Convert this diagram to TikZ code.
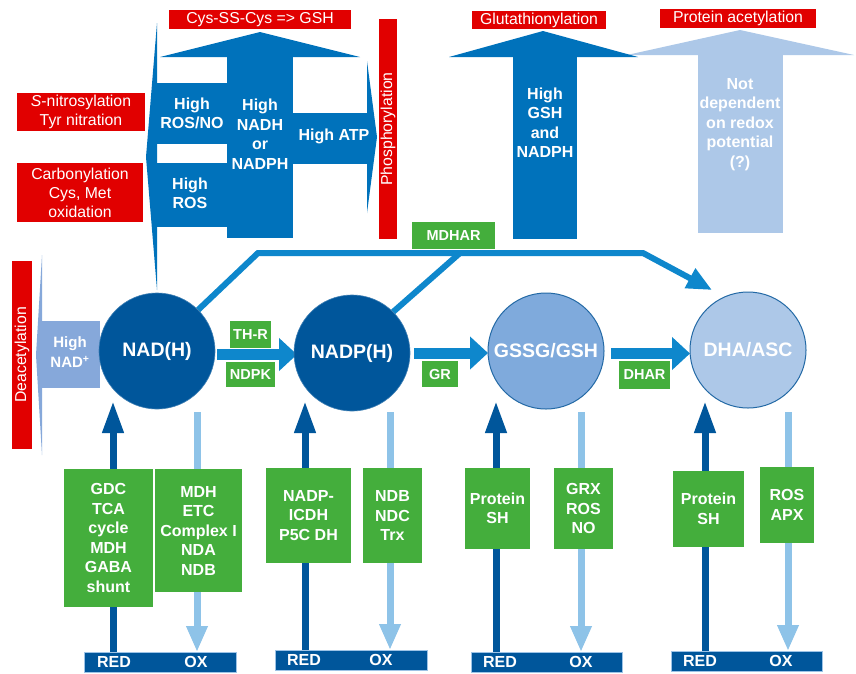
\documentclass[tikz,border=0pt]{standalone}
\usepackage{fontspec}
\setmainfont{Liberation Sans}
\usetikzlibrary{arrows.meta,calc}
\definecolor{navy}{RGB}{0,86,155}
\definecolor{midblue}{RGB}{0,114,187}
\definecolor{conblue}{RGB}{14,135,204}
\definecolor{lightblue}{RGB}{173,200,232}
\definecolor{gsblue}{RGB}{127,170,220}
\definecolor{nadblue}{RGB}{134,168,218}
\definecolor{oxblue}{RGB}{142,195,232}
\definecolor{grn}{RGB}{68,174,60}
\definecolor{redl}{RGB}{225,0,0}
\definecolor{barline}{RGB}{157,195,230}
\definecolor{ringblue}{RGB}{35,105,165}
\pgfdeclarelayer{bg}
\pgfsetlayers{bg,main}
\begin{document}
\begin{tikzpicture}[x=1pt,y=-1pt,
  every node/.style={inner sep=0pt,outer sep=0pt},
  redlab/.style={fill=redl,text=white,align=center,font=\fontsize{15.8}{19}\selectfont},
  wtxt/.style={text=white,align=center,font=\fontsize{16}{19.5}\selectfont\bfseries},
  glab/.style={fill=grn,text=white,align=center,font=\fontsize{14.5}{17}\selectfont\bfseries},
  gbox/.style={fill=grn,text=white,align=center,font=\fontsize{16}{19.5}\selectfont\bfseries},
  pool/.style={circle,minimum size=116pt,text=white,font=\fontsize{19.5}{22}\selectfont\bfseries},
  bar/.style={fill=navy,draw=barline,line width=0.8pt},
  bartxt/.style={text=white,font=\fontsize{16}{19}\selectfont\bfseries},
  harrow/.style={draw=conblue,line width=11pt,-{Triangle[width=32pt,length=18pt]}},
  redarr/.style={draw=navy,line width=7pt,-{Triangle[width=20pt,length=32pt]}},
  oxarr/.style={draw=oxblue,line width=7pt,-{Triangle[width=20pt,length=26pt]}},
  mdline/.style={draw=conblue,line width=6pt,line join=miter,-{Triangle[width=21pt,length=25pt]}}
]
\useasboundingbox (0,0) rectangle (856,673);

% ---- big left shape ----
\fill[midblue] (157,23) -- (146,157) -- (157,290) -- cycle;
\fill[midblue] (157,83) rectangle (227,144);
\fill[midblue] (157,163) rectangle (227,227);
\fill[midblue] (227,57) rectangle (293,238);
\fill[midblue] (293,113) rectangle (367,164);
\fill[midblue] (160,57) -- (260,32) -- (360,57) -- cycle;
\fill[midblue] (367,61) -- (377,137) -- (367,213) -- cycle;
\node[wtxt] (t1) at (192,113.5) {High\\ROS/NO};
\node[wtxt] (t2) at (190,193.5) {High\\ROS};
\node[wtxt] (t3) at (260,134) {High\\NADH\\or\\NADPH};
\node[wtxt] (t4) at (334,136) {High ATP};

% ---- top right arrows ----
\fill[lightblue] (698,53) rectangle (783,233);
\fill[lightblue] (627,55) -- (740,30) -- (854,55) -- cycle;
\fill[midblue] (513,53) rectangle (577,239);
\fill[midblue] (449,57) -- (543,31) -- (638,57) -- cycle;
\node[wtxt] (t5) at (545,122.5) {High\\GSH\\and\\NADPH};
\node[wtxt] (t6) at (740,124.5) {Not\\dependent\\on redox\\potential\\(?)};

% ---- red labels ----
\node[redlab,minimum width=182pt,minimum height=19pt] (cys) at (260,19.5) {Cys-SS-Cys => GSH};
\node[redlab,rotate=90,minimum width=220pt,minimum height=18pt] (phos) at (388,129) {Phosphorylation};
\node[redlab,minimum width=128pt,minimum height=38pt] (snit) at (81,112) {\textit{S}-nitrosylation\\Tyr nitration};
\node[redlab,minimum width=126pt,minimum height=59pt] (carb) at (80,192.5) {Carbonylation\\Cys, Met\\oxidation};
\node[redlab,minimum width=134pt,minimum height=18pt] (glut) at (539,20) {Glutathionylation};
\node[redlab,minimum width=156pt,minimum height=19pt] (acet) at (738,18.5) {Protein acetylation};
\node[redlab,rotate=90,minimum width=188pt,minimum height=20pt] (deac) at (22,355) {Deacetylation};

% ---- High NAD+ ----
\fill[nadblue] (42,255) -- (36,355) -- (42,455) -- cycle;
\fill[nadblue] (40,321) rectangle (100,388);
\node[text=white,align=center,font=\fontsize{15}{20}\selectfont\bfseries] (hnad) at (70,352) {High\\NAD\textsuperscript{+}};

% ---- pools ----
\node[pool,fill=navy,draw=navy!75!white,line width=0.6pt] (nad) at (157,351) {NAD(H)};
\node[pool,fill=navy,draw=navy!75!white,line width=0.6pt] (nadp) at (352,353) {NADP(H)};
\node[pool,fill=gsblue,draw=ringblue,line width=1pt] (gssg) at (546,351) {GSSG/GSH};
\node[pool,fill=lightblue,draw=ringblue,line width=1pt] (dha) at (748,350) {DHA/ASC};

% ---- enzyme labels ----
\node[glab,minimum width=83pt,minimum height=27pt] (mdhar) at (453.5,235.5) {MDHAR};
\node[glab,minimum width=41pt,minimum height=27pt] (thr) at (250.5,334.5) {TH-R};
\node[glab,minimum width=49pt,minimum height=25pt] (ndpk) at (250.5,374.5) {NDPK};
\node[glab,minimum width=36pt,minimum height=26pt] (gr) at (440,374) {GR};
\node[glab,minimum width=51pt,minimum height=28pt] (dhar) at (644.5,375) {DHAR};

% ---- bottom boxes ----
\node[gbox,minimum width=89pt,minimum height=138pt] (g1) at (108.5,538) {GDC\\TCA\\cycle\\MDH\\GABA\\shunt};
\node[gbox,minimum width=87pt,minimum height=123pt] (g2) at (198.5,530.5) {MDH\\ETC\\Complex I\\NDA\\NDB};
\node[gbox,minimum width=85pt,minimum height=95pt] (g3) at (308.5,515.5) {NADP-\\ICDH\\P5C DH};
\node[gbox,minimum width=59pt,minimum height=95pt] (g4) at (392.5,515.5) {NDB\\NDC\\Trx};
\node[gbox,minimum width=65pt,minimum height=81pt] (g5) at (497.5,508.5) {Protein\\SH};
\node[gbox,minimum width=59pt,minimum height=81pt] (g6) at (583.5,508.5) {GRX\\ROS\\NO};
\node[gbox,minimum width=71pt,minimum height=76pt] (g7) at (708.5,509) {Protein\\SH};
\node[gbox,minimum width=54pt,minimum height=76pt] (g8) at (787,505) {ROS\\APX};

% ---- bars ----
\node[bar,minimum width=152pt,minimum height=20pt] (bar1) at (160,662) {};
\node[bar,minimum width=152pt,minimum height=20pt] (bar2) at (351,660) {};
\node[bar,minimum width=151pt,minimum height=20pt] (bar3) at (546.5,662) {};
\node[bar,minimum width=151pt,minimum height=20pt] (bar4) at (746.5,661) {};
\node[bartxt] (red1) at (114,662) {RED};
\node[bartxt] (ox1) at (196,662) {OX};
\node[bartxt] (red2) at (304,660) {RED};
\node[bartxt] (ox2) at (381,660) {OX};
\node[bartxt] (red3) at (500,662) {RED};
\node[bartxt] (ox3) at (581,662) {OX};
\node[bartxt] (red4) at (700,661) {RED};
\node[bartxt] (ox4) at (781,661) {OX};

% ---- connectors ----
\coordinate (a1) at (217,354.5);
\coordinate (a2) at (414,353);
\coordinate (a3) at (611,353.5);
\coordinate (mdA) at (258,253);
\coordinate (mdB) at (643,253);
\coordinate (mdtip) at (712,290);
\coordinate (mdC) at (460,253);
\coordinate (r1) at (113,401);
\coordinate (r2) at (305,401);
\coordinate (r3) at (496,401);
\coordinate (r4) at (705,401);
\coordinate (o1) at (197,412);
\coordinate (o2) at (390,412);
\coordinate (o3) at (581,412);
\coordinate (o4) at (788,412);
\begin{pgfonlayer}{bg}
\fill[white] (0,0) rectangle (856,673);
\draw[mdline] (nad.45) -- (mdA) -- (mdB) -- (mdtip);
\draw[draw=conblue,line width=6pt] (nadp.45) -- (mdC);
\draw[harrow,shorten >=-3pt] (a1) -- (nadp.west |- a1);
\draw[harrow] (a2) -- (gssg.west |- a2);
\draw[harrow] (a3) -- (dha.west |- a3);
\draw[redarr] (bar1.north -| r1) -- (r1);
\draw[redarr] (bar2.north -| r2) -- (r2);
\draw[redarr] (bar3.north -| r3) -- (r3);
\draw[redarr] (bar4.north -| r4) -- (r4);
\draw[oxarr] (o1) -- (bar1.north -| o1);
\draw[oxarr] (o2) -- (bar2.north -| o2);
\draw[oxarr] (o3) -- (bar3.north -| o3);
\draw[oxarr] (o4) -- (bar4.north -| o4);
\end{pgfonlayer}
\end{tikzpicture}
\end{document}
